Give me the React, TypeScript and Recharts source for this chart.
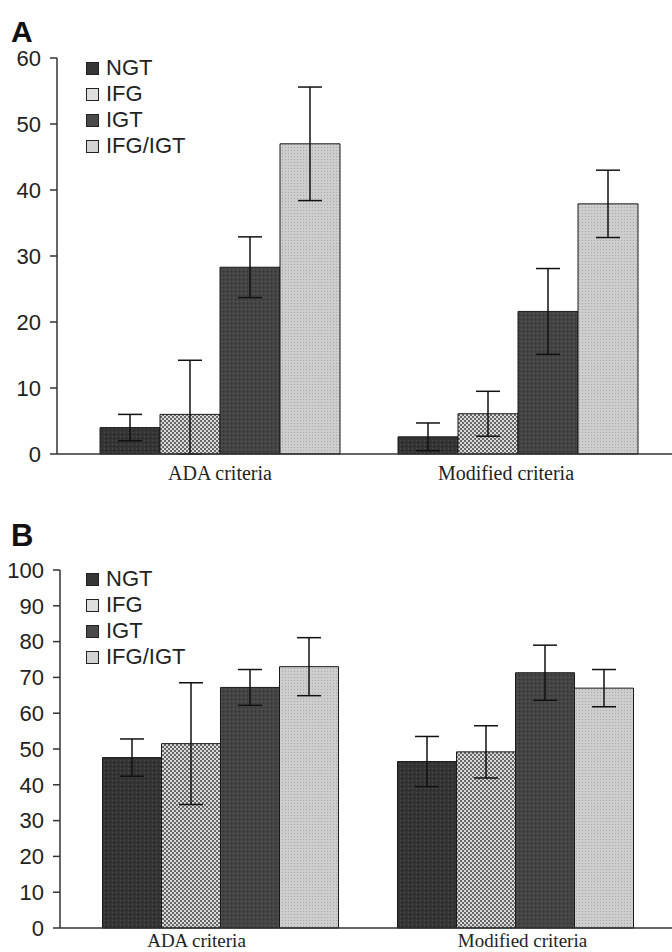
import React from 'react'
import { BarChart, Bar, XAxis, YAxis, ErrorBar, Legend } from 'recharts'

const categories = ['ADA criteria', 'Modified criteria']
const groupNames = ['NGT', 'IFG', 'IGT', 'IFG/IGT']

// panel A
const ngtA = [4.0, 2.6]
const ifgA = [6.0, 6.1]
const igtA = [28.3, 21.6]
const bothA = [47.0, 37.9]
const ngtErrA = [2.0, 2.1]
const ifgErrA = [[6.0, 8.2], 3.4]
const igtErrA = [4.6, 6.5]
const bothErrA = [8.6, 5.1]
const ticksA = [0, 10, 20, 30, 40, 50, 60]

// panel B
const ngtB = [47.6, 46.5]
const ifgB = [51.5, 49.2]
const igtB = [67.2, 71.3]
const bothB = [73.0, 67.0]
const ngtErrB = [5.2, 7.0]
const ifgErrB = [17.0, 7.3]
const igtErrB = [5.0, 7.7]
const bothErrB = [8.1, 5.2]
const ticksB = [0, 10, 20, 30, 40, 50, 60, 70, 80, 90, 100]

const buildRows = (vals: number[][], errs: any[][]) =>
  categories.map((name, i) => ({
    name,
    ngt: vals[0][i],
    ifg: vals[1][i],
    igt: vals[2][i],
    both: vals[3][i],
    ngtErr: errs[0][i],
    ifgErr: errs[1][i],
    igtErr: errs[2][i],
    bothErr: errs[3][i],
  }))

const rowsA = buildRows([ngtA, ifgA, igtA, bothA], [ngtErrA, ifgErrA, igtErrA, bothErrA])
const rowsB = buildRows([ngtB, ifgB, igtB, bothB], [ngtErrB, ifgErrB, igtErrB, bothErrB])

const seriesKeys = ['ngt', 'ifg', 'igt', 'both']
const legendFills = ['#363636', '#dedede', '#4a4a4a', '#d2d2d2']

const SANS = '"Liberation Sans", Arial, sans-serif'
const SERIF = '"Liberation Serif", "Times New Roman", serif'

function Patterns({ p }: { p: string }) {
  return (
    <defs>
      <pattern id={`${p}-ngt`} width="4" height="4" patternUnits="userSpaceOnUse">
        <rect width="4" height="4" fill="#353535" />
        <rect x="0" y="0" width="1" height="1" fill="#505050" />
        <rect x="2" y="2" width="1" height="1" fill="#222" />
      </pattern>
      <pattern id={`${p}-ifg`} width="4" height="4" patternUnits="userSpaceOnUse">
        <rect width="4" height="4" fill="#dadada" />
        <rect x="0" y="0" width="2" height="2" fill="#666" />
        <rect x="2" y="2" width="2" height="2" fill="#666" />
      </pattern>
      <pattern id={`${p}-igt`} width="4" height="4" patternUnits="userSpaceOnUse">
        <rect width="4" height="4" fill="#444" />
        <rect x="1" y="1" width="1" height="1" fill="#5a5a5a" />
        <rect x="3" y="3" width="1" height="1" fill="#303030" />
      </pattern>
      <pattern id={`${p}-both`} width="3" height="3" patternUnits="userSpaceOnUse">
        <rect width="3" height="3" fill="#cdcdcd" />
        <rect x="0" y="0" width="1" height="1" fill="#aaa" />
      </pattern>
    </defs>
  )
}

function LegendBox() {
  return (
    <div style={{ fontFamily: SANS, fontSize: 22, color: '#222' }}>
      {groupNames.map((g, i) => (
        <div key={g} style={{ display: 'flex', alignItems: 'center', height: 26 }}>
          <span
            style={{
              display: 'inline-block',
              width: 11,
              height: 11,
              border: '1px solid #222',
              background: legendFills[i],
              marginRight: 7,
            }}
          />
          <span style={{ lineHeight: '26px' }}>{g}</span>
        </div>
      ))}
    </div>
  )
}

function CatTick(props: any) {
  const { x, y, payload, offsets, fontSize } = props
  return (
    <text
      x={x + offsets[payload.index]}
      y={y}
      dy="0.71em"
      textAnchor="middle"
      fontFamily={SERIF}
      fontSize={fontSize}
      fill="#222"
    >
      {payload.value}
    </text>
  )
}

function Panel(props: any) {
  const { id, rows, ticks, yMax, height, top, axisW, pad, gap, legendTop, offsets, labelSize, labelGap } = props
  return (
    <BarChart
      width={672}
      height={height}
      data={rows}
      margin={{ top, right: 0, left: 0, bottom: 4 }}
      barCategoryGap={gap}
      barGap={0}
    >
      <Patterns p={id} />
      <XAxis
        dataKey="name"
        height={30}
        padding={pad}
        tickLine={false}
        tickSize={0}
        tickMargin={labelGap}
        axisLine={{ stroke: '#333', strokeWidth: 1.5 }}
        tick={<CatTick offsets={offsets} fontSize={labelSize} />}
        interval={0}
      />
      <YAxis
        width={axisW}
        domain={[0, yMax]}
        ticks={ticks}
        tickSize={7}
        tickMargin={9}
        axisLine={{ stroke: '#333', strokeWidth: 1.5 }}
        tickLine={{ stroke: '#333', strokeWidth: 1.5 }}
        tick={{ fontFamily: SANS, fontSize: 22, fill: '#222' }}
        interval={0}
      />
      <Legend
        layout="vertical"
        align="center"
        verticalAlign="middle"
        wrapperStyle={{ left: 86, top: legendTop, width: 'auto' }}
        content={() => <LegendBox />}
      />
      {seriesKeys.map((k) => (
        <Bar
          key={k}
          dataKey={k}
          fill={`url(#${id}-${k})`}
          stroke="#1a1a1a"
          strokeWidth={1}
          isAnimationActive={false}
        >
          <ErrorBar dataKey={`${k}Err`} width={12} stroke="#111" strokeWidth={1.5} />
        </Bar>
      ))}
    </BarChart>
  )
}

const letterStyle: React.CSSProperties = {
  position: 'absolute',
  left: 11,
  fontFamily: SANS,
  fontWeight: 'bold',
  lineHeight: 1,
  color: '#111',
}

export default function App() {
  return (
    <div style={{ position: 'relative', width: 672, height: 952, background: '#fff', overflow: 'hidden' }}>
      <style>{`body{margin:0;background:#fff}`}</style>
      <div style={{ ...letterStyle, top: 17, fontSize: 30 }}>A</div>
      <div style={{ position: 'absolute', left: 0, top: 0 }}>
        <Panel
          id="pa"
          rows={rowsA}
          ticks={ticksA}
          yMax={60}
          height={488}
          top={58}
          axisW={57}
          pad={{ left: 14, right: 5 }}
          gap={29}
          legendTop={55}
          offsets={[0, -12]}
          labelSize={20}
          labelGap={12}
        />
      </div>
      <div style={{ ...letterStyle, top: 520, fontSize: 31 }}>B</div>
      <div style={{ position: 'absolute', left: 0, top: 500 }}>
        <Panel
          id="pb"
          rows={rowsB}
          ticks={ticksB}
          yMax={100}
          height={462}
          top={70}
          axisW={60}
          pad={{ left: 13, right: 9 }}
          gap={29.5}
          legendTop={66}
          offsets={[-24, 7]}
          labelSize={19}
          labelGap={6}
        />
      </div>
    </div>
  )
}
